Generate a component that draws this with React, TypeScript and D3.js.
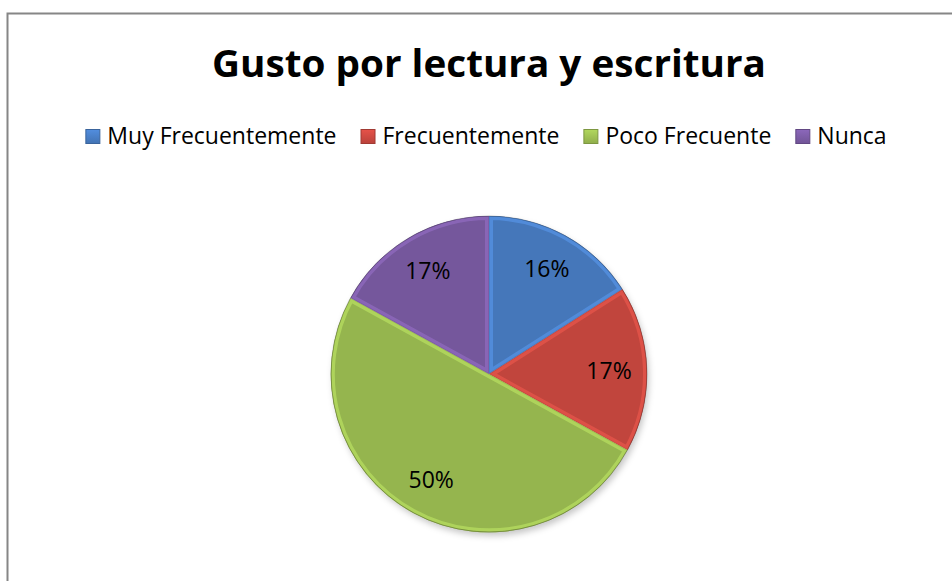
import React from "react";
import * as d3 from "d3";

const title = "Gusto por lectura y escritura";
const categories = ["Muy Frecuentemente", "Frecuentemente", "Poco Frecuente", "Nunca"];
const values = [16, 17, 50, 17];
const valueLabels = ["16%", "17%", "50%", "17%"];
const colors = ["#4A80C8", "#CF4A42", "#A0C254", "#7E5DA8"];

const W = 952;
const H = 581;
const cx = 489;
const cy = 374;
const R = 158;
const FONT = "'Open Sans', 'DejaVu Sans', sans-serif";
const LEGEND_SIZE = 23;

function measure(text: string, font: string): number {
  const c = document.createElement("canvas");
  const ctx = c.getContext("2d");
  if (!ctx) return text.length * 11;
  ctx.font = font;
  return ctx.measureText(text).width;
}

export default function App() {
  const pie = d3
    .pie<number>()
    .sort(null)
    .value((d) => d)
    .startAngle(0)
    .endAngle(2 * Math.PI);
  const arcs = pie(values);
  const arc = d3.arc<d3.PieArcDatum<number>>().innerRadius(0).outerRadius(R);
  const labelArc = d3
    .arc<d3.PieArcDatum<number>>()
    .innerRadius(R * 0.76)
    .outerRadius(R * 0.76);

  // legend layout
  const marker = 15;
  const markerGap = 7;
  const itemGap = 24;
  const widths = categories.map((c) => measure(c, `${LEGEND_SIZE}px ${FONT}`));
  const itemW = widths.map((w) => marker + markerGap + w);
  const total = d3.sum(itemW) + itemGap * (categories.length - 1);
  let x0 = 486 - total / 2;
  const legendX: number[] = [];
  itemW.forEach((w) => {
    legendX.push(x0);
    x0 += w + itemGap;
  });
  const legendBase = 144;

  return (
    <svg
      width={W}
      height={H}
      style={{ position: "absolute", left: 0, top: 0, background: "#fff" }}
    >
      <defs>
        {colors.map((c, i) => (
          <radialGradient
            key={i}
            id={`g${i}`}
            gradientUnits="userSpaceOnUse"
            cx={cx}
            cy={cy}
            r={R}
          >
            <stop offset="0%" stopColor={d3.color(c)!.brighter(0.1).formatHex()} />
            <stop offset="80%" stopColor={c} />
            <stop offset="100%" stopColor={d3.color(c)!.darker(0.2).formatHex()} />
          </radialGradient>
        ))}
        {colors.map((c, i) => (
          <linearGradient key={i} id={`lg${i}`} x1="0" y1="0" x2="0" y2="1">
            <stop offset="0%" stopColor={d3.color(c)!.brighter(0.3).formatHex()} />
            <stop offset="100%" stopColor={d3.color(c)!.darker(0.3).formatHex()} />
          </linearGradient>
        ))}
        {arcs.map((a, i) => (
          <clipPath key={i} id={`c${i}`}>
            <path d={arc(a) || ""} transform={`translate(${cx},${cy})`} />
          </clipPath>
        ))}
        <filter id="shadow" x="-20%" y="-20%" width="140%" height="140%">
          <feGaussianBlur stdDeviation="3" />
        </filter>
      </defs>

      {/* chart border */}
      <rect x={7.5} y={13.5} width={W + 10} height={H + 10} fill="none" stroke="#868686" strokeWidth={2} />

      <text
        x={489}
        y={77}
        textAnchor="middle"
        fontFamily={FONT}
        fontWeight="bold"
        fontSize={37}
        textLength={554}
        lengthAdjust="spacingAndGlyphs"
        fill="#000"
      >
        {title}
      </text>

      {categories.map((c, i) => (
        <g key={c}>
          <rect
            x={legendX[i] + 0.5}
            y={legendBase - marker + 0.5}
            width={marker - 1}
            height={marker - 1}
            fill={`url(#lg${i})`}
            stroke={d3.color(colors[i])!.darker(0.7).formatHex()}
            strokeWidth={1}
          />
          <text
            x={legendX[i] + marker + markerGap}
            y={legendBase}
            fontFamily={FONT}
            fontSize={LEGEND_SIZE}
            fill="#000"
          >
            {c}
          </text>
        </g>
      ))}

      {/* shadow */}
      <circle cx={cx + 2} cy={cy + 4} r={R} fill="rgba(0,0,0,0.22)" filter="url(#shadow)" />

      <g transform={`translate(${cx},${cy})`}>
        {arcs.map((a, i) => (
          <path key={i} d={arc(a) || ""} fill={`url(#g${i})`} />
        ))}
      </g>
      {arcs.map((a, i) => (
        <g key={i} clipPath={`url(#c${i})`}>
          <path
            d={arc(a) || ""}
            transform={`translate(${cx},${cy})`}
            fill="none"
            stroke={d3.color(colors[i])!.brighter(0.7).formatHex()}
            strokeOpacity={0.45}
            strokeWidth={8}
            strokeLinejoin="round"
          />
          <path
            d={arc(a) || ""}
            transform={`translate(${cx},${cy})`}
            fill="none"
            stroke={d3.color(colors[i])!.darker(0.4).formatHex()}
            strokeOpacity={0.5}
            strokeWidth={1.5}
          />
        </g>
      ))}
      <circle cx={cx} cy={cy} r={R} fill="none" stroke="rgba(0,0,0,0.25)" strokeWidth={1} />

      {arcs.map((a, i) => {
        const [lx, ly] = labelArc.centroid(a);
        return (
          <text
            key={i}
            x={cx + lx}
            y={cy + ly}
            dy="0.36em"
            textAnchor="middle"
            fontFamily={FONT}
            fontSize={23}
            fill="#000"
          >
            {valueLabels[i]}
          </text>
        );
      })}
    </svg>
  );
}
